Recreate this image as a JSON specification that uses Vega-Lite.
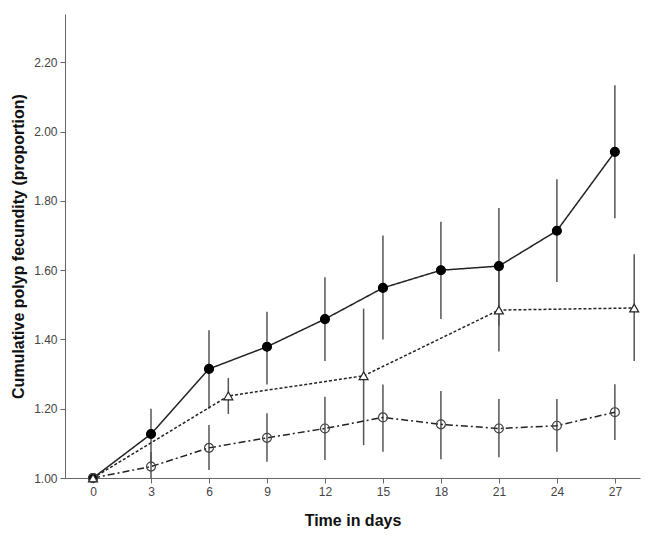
{
  "$schema": "https://vega.github.io/schema/vega-lite/v6.json",
  "autosize": {"type": "none"},
  "padding": {"left": 65, "top": 14, "right": 13, "bottom": 64},
  "width": 575,
  "height": 464,
  "background": "white",
  "config": {
    "view": {"stroke": null},
    "font": "Liberation Sans",
    "axis": {
      "grid": false,
      "domainColor": "#666",
      "tickColor": "#666",
      "tickSize": 5,
      "labelColor": "#444",
      "labelFontSize": 12,
      "labelFont": "Liberation Sans",
      "titleFont": "Liberation Sans",
      "titleFontSize": 16,
      "titleFontWeight": "bold",
      "titleColor": "#111"
    }
  },
  "data": {
    "values": [
      {"group": "A", "day": 0, "mean": 1.0, "lo": 1.0, "hi": 1.0},
      {"group": "A", "day": 3, "mean": 1.127, "lo": 1.04, "hi": 1.2},
      {"group": "A", "day": 6, "mean": 1.315, "lo": 1.2, "hi": 1.427},
      {"group": "A", "day": 9, "mean": 1.379, "lo": 1.27, "hi": 1.48},
      {"group": "A", "day": 12, "mean": 1.459, "lo": 1.338, "hi": 1.58},
      {"group": "A", "day": 15, "mean": 1.549, "lo": 1.4, "hi": 1.7},
      {"group": "A", "day": 18, "mean": 1.6, "lo": 1.459, "hi": 1.74},
      {"group": "A", "day": 21, "mean": 1.612, "lo": 1.44, "hi": 1.78},
      {"group": "A", "day": 24, "mean": 1.714, "lo": 1.566, "hi": 1.863},
      {"group": "A", "day": 27, "mean": 1.942, "lo": 1.75, "hi": 2.134},
      {"group": "B", "day": 0, "mean": 1.0, "lo": 1.0, "hi": 1.0},
      {"group": "B", "day": 7, "mean": 1.237, "lo": 1.185, "hi": 1.289},
      {"group": "B", "day": 14, "mean": 1.295, "lo": 1.095, "hi": 1.489},
      {"group": "B", "day": 21, "mean": 1.485, "lo": 1.365, "hi": 1.605},
      {"group": "B", "day": 28, "mean": 1.491, "lo": 1.338, "hi": 1.646},
      {"group": "C", "day": 0, "mean": 1.0, "lo": 1.0, "hi": 1.0},
      {"group": "C", "day": 3, "mean": 1.033, "lo": 0.995, "hi": 1.075},
      {"group": "C", "day": 6, "mean": 1.087, "lo": 1.023, "hi": 1.153},
      {"group": "C", "day": 9, "mean": 1.116, "lo": 1.047, "hi": 1.187},
      {"group": "C", "day": 12, "mean": 1.143, "lo": 1.052, "hi": 1.235},
      {"group": "C", "day": 15, "mean": 1.175, "lo": 1.076, "hi": 1.27},
      {"group": "C", "day": 18, "mean": 1.155, "lo": 1.054, "hi": 1.251},
      {"group": "C", "day": 21, "mean": 1.143, "lo": 1.06, "hi": 1.228},
      {"group": "C", "day": 24, "mean": 1.151, "lo": 1.076, "hi": 1.228},
      {"group": "C", "day": 27, "mean": 1.19, "lo": 1.11, "hi": 1.271}
    ]
  },
  "encoding": {
    "x": {
      "field": "day", "type": "quantitative",
      "scale": {"domain": [-1.45, 28.3], "nice": false, "zero": false},
      "axis": {"values": [0, 3, 6, 9, 12, 15, 18, 21, 24, 27], "title": "Time in days", "titlePadding": 15, "labelPadding": 3}
    }
  },
  "layer": [
    {
      "mark": {"type": "rule", "color": "#555", "strokeWidth": 1.5, "clip": true},
      "encoding": {
        "y": {"field": "lo", "type": "quantitative", "scale": {"domain": [1.0, 2.34], "nice": false, "zero": false},
          "axis": {"values": [1.0, 1.2, 1.4, 1.6, 1.8, 2.0, 2.2], "format": ".2f", "title": "Cumulative polyp fecundity (proportion)", "titlePadding": 7, "labelPadding": 3}},
        "y2": {"field": "hi"}
      }
    },
    {
      "mark": {"type": "line", "color": "#222", "strokeWidth": 1.5},
      "encoding": {
        "y": {"field": "mean", "type": "quantitative"},
        "detail": {"field": "group"},
        "strokeDash": {"field": "group", "type": "nominal", "scale": {"domain": ["A", "B", "C"], "range": [[1, 0], [3, 2], [7, 3, 2, 3]]}, "legend": null}
      }
    },
    {
      "mark": {"type": "point", "opacity": 1, "strokeWidth": 1.2},
      "encoding": {
        "y": {"field": "mean", "type": "quantitative"},
        "shape": {"field": "group", "type": "nominal", "scale": {"domain": ["A", "B", "C"], "range": ["circle", "triangle-up", "circle"]}, "legend": null},
        "size": {"field": "group", "type": "nominal", "scale": {"domain": ["A", "B", "C"], "range": [80, 80, 50]}, "legend": null},
        "fill": {"field": "group", "type": "nominal", "scale": {"domain": ["A", "B", "C"], "range": ["#000", "#fff", "transparent"]}, "legend": null},
        "stroke": {"field": "group", "type": "nominal", "scale": {"domain": ["A", "B", "C"], "range": ["#000", "#222", "#444"]}, "legend": null}
      }
    }
  ]
}
